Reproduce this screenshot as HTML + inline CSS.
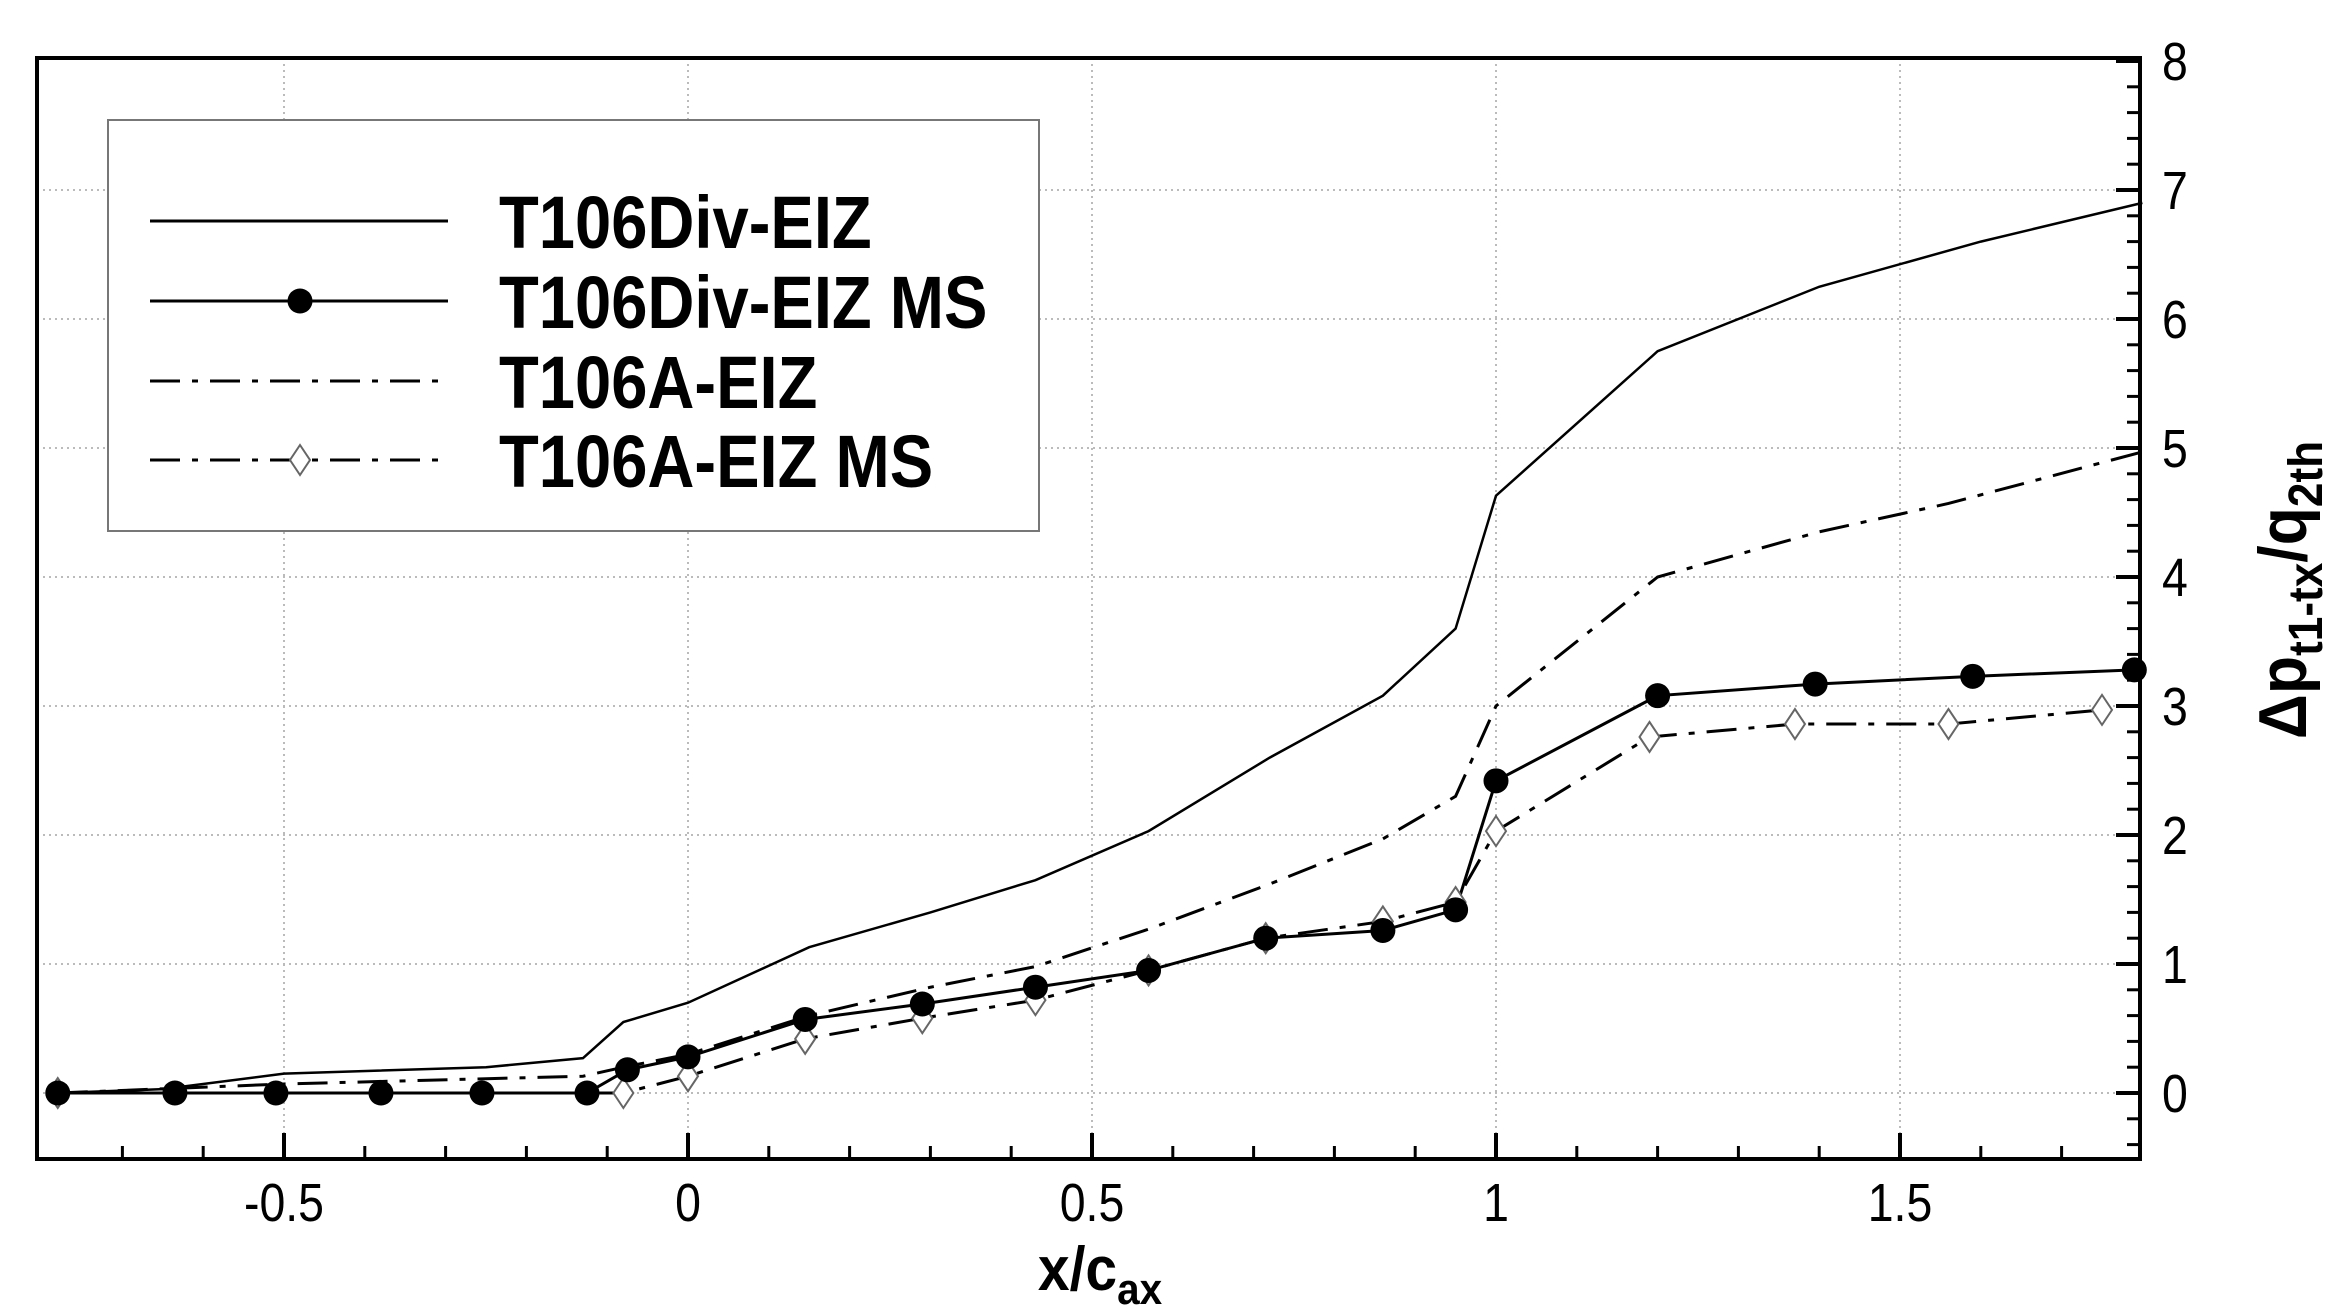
<!DOCTYPE html>
<html><head><meta charset="utf-8"><style>
html,body{margin:0;padding:0;background:#fff;}
svg{display:block;font-family:"Liberation Sans",Arial,sans-serif;}
</style></head><body>
<svg id="s" width="2330" height="1315" viewBox="0 0 2330 1315" xmlns="http://www.w3.org/2000/svg"></svg>
<script>
const s=document.getElementById('s');
const X0=688,XU=808,Y0=1093,YU=129,L=37,R=2140,T=58,B=1159;
const px=x=>X0+x*XU, py=y=>Y0-y*YU;
let h='';
const txt=(x,y,str,fs,anchor,extra,sx)=>`<text transform="translate(${x},${y}) scale(${sx||0.86},1)" font-size="${fs}" text-anchor="${anchor||'start'}" ${extra||''}>${str}</text>`;
for(let x=-0.5;x<=1.5;x+=0.5) h+=`<line x1="${px(x)}" y1="${T}" x2="${px(x)}" y2="${B}" stroke="#bbb" stroke-width="2" stroke-dasharray="2,4"/>`;
for(let y=0;y<=7;y++) h+=`<line x1="${L}" y1="${py(y)}" x2="${R}" y2="${py(y)}" stroke="#bbb" stroke-width="2" stroke-dasharray="2,4"/>`;
for(let i=-7;i<=17;i++){const x=i/10;const maj=(i%5===0);const len=maj?26:13;
 h+=`<line x1="${px(x)}" y1="${B}" x2="${px(x)}" y2="${B-len}" stroke="#000" stroke-width="${maj?4:3}"/>`;
 if(maj) h+=txt(px(x),B+62,x===0?'0':String(x),54,'middle');}
for(let i=-2;i<=40;i++){const y=i/5;const maj=(i%5===0);const len=maj?24:13;
 h+=`<line x1="${R}" y1="${py(y)}" x2="${R-len}" y2="${py(y)}" stroke="#000" stroke-width="${maj?4:3}"/>`;
 if(maj) h+=txt(R+22,py(y)+19,String(y),54);}
h+=`<rect x="${L}" y="${T}" width="${R-L}" height="${B-T}" fill="none" stroke="#000" stroke-width="4"/>`;
const poly=(pts,dash,w)=>`<polyline points="${pts.map(p=>px(p[0])+','+py(p[1])).join(' ')}" fill="none" stroke="#000" stroke-width="${w}" ${dash?`stroke-dasharray="${dash}"`:''}/>`;
const d1=[[-0.78,0],[-0.65,0.03],[-0.5,0.15],[-0.25,0.2],[-0.13,0.27],[-0.08,0.55],[0,0.7],[0.15,1.13],[0.3,1.4],[0.43,1.65],[0.57,2.03],[0.72,2.6],[0.86,3.08],[0.95,3.6],[1.0,4.63],[1.2,5.75],[1.4,6.25],[1.6,6.6],[1.8,6.9]];
const d2=[[-0.78,0],[-0.635,0],[-0.51,0],[-0.38,0],[-0.255,0],[-0.125,0],[-0.075,0.18],[0,0.28],[0.145,0.57],[0.29,0.69],[0.43,0.82],[0.57,0.95],[0.715,1.2],[0.86,1.26],[0.95,1.42],[1.0,2.42],[1.2,3.08],[1.395,3.17],[1.59,3.23],[1.79,3.28]];
const d3=[[-0.78,0],[-0.5,0.07],[-0.13,0.13],[-0.08,0.2],[0,0.3],[0.15,0.6],[0.3,0.82],[0.43,0.98],[0.57,1.27],[0.72,1.62],[0.86,1.97],[0.95,2.3],[1.0,3.0],[1.2,4.0],[1.4,4.35],[1.56,4.57],[1.8,4.97]];
const d4=[[-0.78,0],[-0.08,0],[0,0.13],[0.145,0.42],[0.29,0.58],[0.43,0.72],[0.57,0.95],[0.715,1.2],[0.86,1.33],[0.95,1.48],[1.0,2.03],[1.19,2.76],[1.37,2.86],[1.56,2.86],[1.75,2.97]];
const DD="30,12,6,12";
h+=poly(d1,null,2.5);
h+=poly(d3,DD,3);
h+=poly(d4,DD,3);
h+=poly(d2,null,3);
const dia=(x,y)=>`<polygon points="${x},${y-15} ${x+10},${y} ${x},${y+15} ${x-10},${y}" fill="#fff" stroke="#666" stroke-width="2"/>`;
d4.forEach(p=>h+=dia(px(p[0]),py(p[1])));
d2.forEach(p=>h+=`<circle cx="${px(p[0])}" cy="${py(p[1])}" r="12.5" fill="#000"/>`);
h+=`<rect x="108" y="120" width="931" height="411" fill="#fff" stroke="#777" stroke-width="2"/>`;
const ly=[221,301,381,460],lt=['T106Div-EIZ','T106Div-EIZ MS','T106A-EIZ','T106A-EIZ MS'];
const lds=[null,null,DD,DD];
for(let i=0;i<4;i++){
 h+=`<line x1="150" y1="${ly[i]}" x2="448" y2="${ly[i]}" stroke="#000" stroke-width="3" ${lds[i]?`stroke-dasharray="${lds[i]}"`:''}/>`;
 h+=txt(499,ly[i]+27,lt[i],74,'start','font-weight="bold"',0.88);
}
h+=`<circle cx="300" cy="301" r="12.5" fill="#000"/>`;
h+=dia(300,460);
h+=`<text transform="translate(1100,1290) scale(0.92,1)" font-size="62" font-weight="bold" text-anchor="middle">x/c<tspan font-size="44" dy="14">ax</tspan></text>`;
h+=`<text transform="translate(2306,590) rotate(-90) scale(0.92,1)" font-size="68" font-weight="bold" text-anchor="middle">Δp<tspan font-size="48" dy="16">t1-tx</tspan><tspan dy="-16">/q</tspan><tspan font-size="48" dy="16">2th</tspan></text>`;
s.innerHTML=h;
</script>
</body></html>
